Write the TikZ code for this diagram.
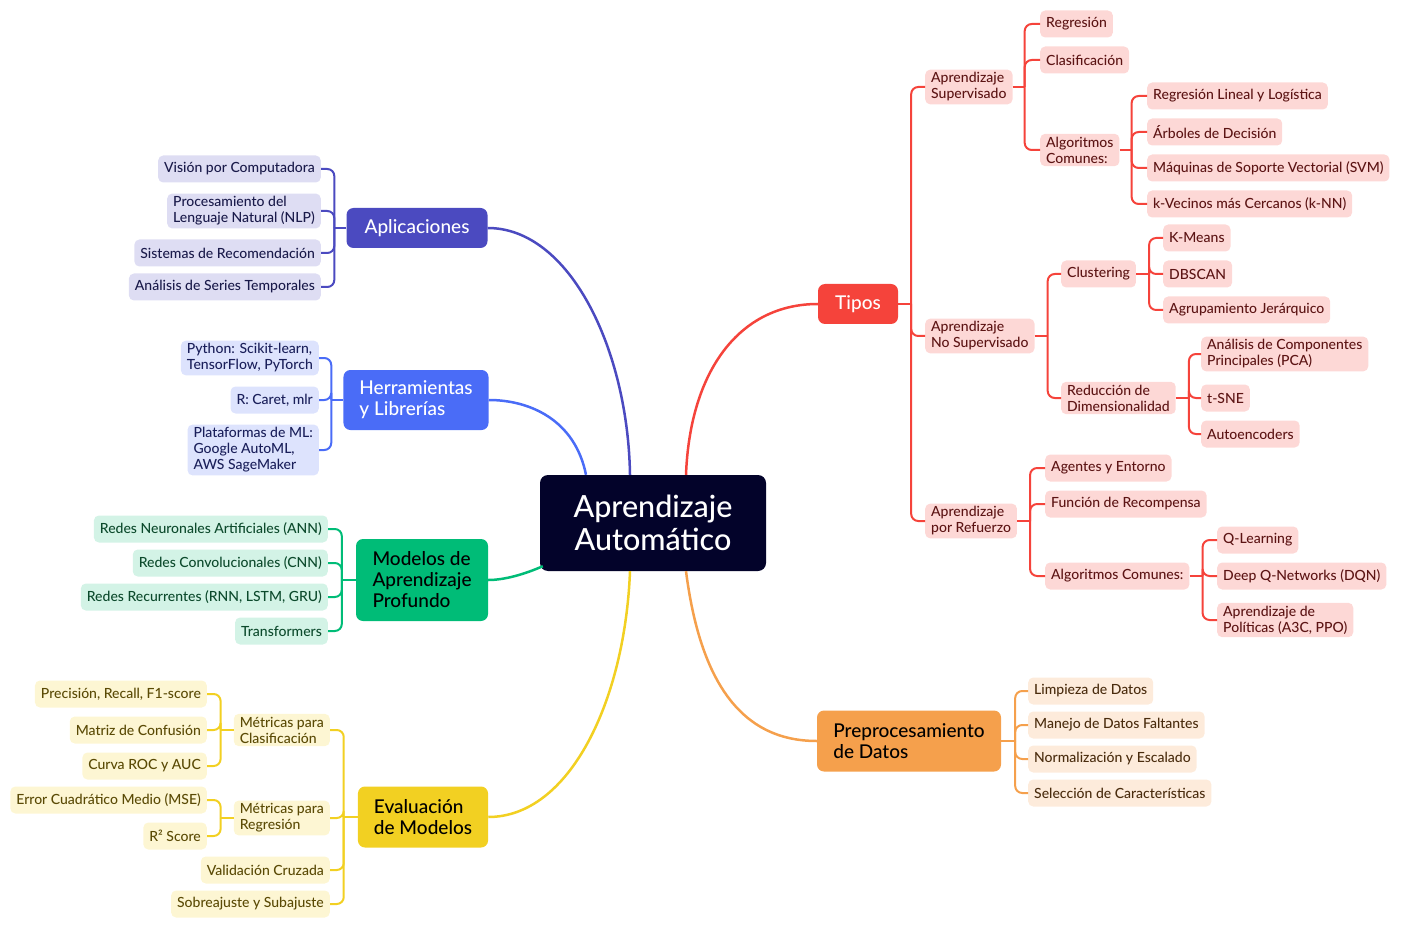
\documentclass[tikz,border=0pt]{standalone}
\usepackage{fontspec}
\setmainfont{Lato}[UprightFont=* Medium]
\usetikzlibrary{positioning}

\definecolor{core}{HTML}{03032A}
\definecolor{tipo}{HTML}{F5433B}
\definecolor{tipolight}{HTML}{FDD8D6}
\definecolor{tipotext}{HTML}{5C1414}
\definecolor{prep}{HTML}{F5A04C}
\definecolor{preplight}{HTML}{FDEBDB}
\definecolor{preptext}{HTML}{4A2C0E}
\definecolor{eval}{HTML}{F2D022}
\definecolor{evallight}{HTML}{FDF6D3}
\definecolor{evaltext}{HTML}{5A4A05}
\definecolor{deep}{HTML}{00BC77}
\definecolor{deeplight}{HTML}{D3F3E6}
\definecolor{deeptext}{HTML}{0C4A2C}
\definecolor{tool}{HTML}{4A6CF7}
\definecolor{toollight}{HTML}{DDE3FD}
\definecolor{tooltext}{HTML}{1A1F5A}
\definecolor{app}{HTML}{4B4AC0}
\definecolor{applight}{HTML}{DEDDF3}
\definecolor{apptext}{HTML}{1A1A4A}

\tikzset{
    box/.style={rectangle, rounded corners=5pt, inner xsep=6pt, inner ysep=3pt,
        minimum height=27pt, align=left, font=\fontsize{14}{16}\selectfont},
    main/.style={rectangle, rounded corners=7pt, inner xsep=16pt, minimum height=40pt,
        align=left, font=\fontsize{19}{21}\selectfont},
    curve/.style={line width=2.5pt},
    branch/.style={line width=2pt, rounded corners=7pt},
    tbox/.style={box, fill=tipolight, text=tipotext},
    pbox/.style={box, fill=preplight, text=preptext},
    ebox/.style={box, fill=evallight, text=evaltext},
    dbox/.style={box, fill=deeplight, text=deeptext},
    hbox/.style={box, fill=toollight, text=tooltext},
    abox/.style={box, fill=applight, text=apptext},
}

\begin{document}
\begin{tikzpicture}[x=1pt, y=-1pt]
\useasboundingbox (0,0) rectangle (1403,933);

% Centre
\node[rectangle, rounded corners=8pt, fill=core, text=white, align=center,
    minimum width=226pt, minimum height=96pt,
    font=\fontsize{30.5}{33}\selectfont] (ml) at (653,523) {Aprendizaje\\Automático};

% Main branches
\node[main, fill=tipo, text=white, minimum width=80pt, align=center] (tipos) at (858,304) {Tipos};
\node[main, fill=prep, text=black, minimum width=184pt, minimum height=61pt] (prep) at (909,741) {Preprocesamiento\\de Datos};
\node[main, fill=eval, text=black, minimum width=130pt, minimum height=61pt] (eval) at (423,817) {Evaluación\\de Modelos};
\node[main, fill=deep, text=black, minimum width=132pt, minimum height=82pt] (modelos) at (422,580) {Modelos de\\Aprendizaje\\Profundo};
\node[main, fill=tool, text=white, minimum width=143pt, minimum height=60pt] (herr) at (416,400) {Herramientas\\y Librerías};
\node[main, fill=app, text=white, minimum width=141pt, align=center] (apl) at (417,228) {Aplicaciones};

\draw[curve, tipo] ([xshift=33pt]ml.north) .. controls (690,370) and (740,304) .. (tipos.west);
\draw[curve, app] ([xshift=-23pt]ml.north) .. controls (628,350) and (570,228) .. (apl.east);
\draw[curve, tool] ([xshift=-67pt]ml.north) .. controls (575,420) and (530,400) .. (herr.east);
\draw[curve, deep] ([xshift=3pt, yshift=5pt]ml.south west) .. controls (525,574) and (505,580) .. (modelos.east);
\draw[curve, eval] ([xshift=-23pt]ml.south) .. controls (625,700) and (570,817) .. (eval.east);
\draw[curve, prep] ([xshift=33pt]ml.south) .. controls (700,680) and (740,741) .. (prep.west);

% Tipos
\node[tbox, anchor=west] (sup) at (925,87) {Aprendizaje\\Supervisado};
\node[tbox, anchor=west] (nosup) at (925,336) {Aprendizaje\\No Supervisado};
\node[tbox, anchor=west] (ref) at (925,521) {Aprendizaje\\por Refuerzo};

\node[tbox, anchor=west] (reg) at (1040,24) {Regresión};
\node[tbox, anchor=west] (clas) at (1040,60) {Clasificación};
\node[tbox, anchor=west] (algs) at (1040,150) {Algoritmos\\Comunes:};
\node[tbox, anchor=west] (rlog) at (1147,96) {Regresión Lineal y Logística};
\node[tbox, anchor=west] (arb) at (1147,132) {Árboles de Decisión};
\node[tbox, anchor=west] (svm) at (1147,168) {Máquinas de Soporte Vectorial (SVM)};
\node[tbox, anchor=west] (knn) at (1147,204) {k-Vecinos más Cercanos (k-NN)};

\node[tbox, anchor=west] (clus) at (1061,274) {Clustering};
\node[tbox, anchor=west] (dimred) at (1061,398) {Reducción de\\Dimensionalidad};
\node[tbox, anchor=west] (kmeans) at (1163,238) {K-Means};
\node[tbox, anchor=west] (dbscan) at (1163,274) {DBSCAN};
\node[tbox, anchor=west] (jer) at (1163,310) {Agrupamiento Jerárquico};
\node[tbox, anchor=west] (pca) at (1201,354) {Análisis de Componentes\\Principales (PCA)};
\node[tbox, anchor=west] (tsne) at (1201,398) {t-SNE};
\node[tbox, anchor=west] (autoenc) at (1201,434) {Autoencoders};

\node[tbox, anchor=west] (agent) at (1045,468) {Agentes y Entorno};
\node[tbox, anchor=west] (recomp) at (1045,504) {Función de Recompensa};
\node[tbox, anchor=west] (algr) at (1045,576) {Algoritmos Comunes:};
\node[tbox, anchor=west] (qlearn) at (1217,540) {Q-Learning};
\node[tbox, anchor=west] (dqn) at (1217,576) {Deep Q-Networks (DQN)};
\node[tbox, anchor=west] (polit) at (1217,620) {Aprendizaje de\\Políticas (A3C, PPO)};

\draw[branch, tipo] (tipos.east) -- ++(13,0) coordinate (tj);
\foreach \c in {sup,nosup,ref} \draw[branch, tipo] (tj) |- (\c.west);
\draw[branch, tipo] (sup.east) -- ++(12,0) coordinate (sj);
\foreach \c in {reg,clas,algs} \draw[branch, tipo] (sj) |- (\c.west);
\draw[branch, tipo] (algs.east) -- ++(12,0) coordinate (aj);
\foreach \c in {rlog,arb,svm,knn} \draw[branch, tipo] (aj) |- (\c.west);
\draw[branch, tipo] (nosup.east) -- ++(13,0) coordinate (nj);
\foreach \c in {clus,dimred} \draw[branch, tipo] (nj) |- (\c.west);
\draw[branch, tipo] (clus.east) -- ++(13,0) coordinate (cj);
\foreach \c in {kmeans,dbscan,jer} \draw[branch, tipo] (cj) |- (\c.west);
\draw[branch, tipo] (dimred.east) -- ++(13,0) coordinate (dj);
\foreach \c in {pca,tsne,autoenc} \draw[branch, tipo] (dj) |- (\c.west);
\draw[branch, tipo] (ref.east) -- ++(13,0) coordinate (rj);
\foreach \c in {agent,recomp,algr} \draw[branch, tipo] (rj) |- (\c.west);
\draw[branch, tipo] (algr.east) -- ++(13,0) coordinate (qj);
\foreach \c in {qlearn,dqn,polit} \draw[branch, tipo] (qj) |- (\c.west);

% Preprocesamiento
\node[pbox, anchor=west] (limp) at (1028,691) {Limpieza de Datos};
\node[pbox, anchor=west] (falt) at (1028,725) {Manejo de Datos Faltantes};
\node[pbox, anchor=west] (norm) at (1028,759) {Normalización y Escalado};
\node[pbox, anchor=west] (selec) at (1028,793) {Selección de Características};
\draw[branch, prep] (prep.east) -- ++(14,0) coordinate (pj);
\foreach \c in {limp,falt,norm,selec} \draw[branch, prep] (pj) |- (\c.west);

% Evaluacion
\node[ebox, anchor=east] (mclas) at (330,730) {Métricas para\\Clasificación};
\node[ebox, anchor=east] (mreg) at (330,818) {Métricas para\\Regresión};
\node[ebox, anchor=east] (valid) at (330,870) {Validación Cruzada};
\node[ebox, anchor=east] (sobre) at (330,904) {Sobreajuste y Subajuste};
\node[ebox, anchor=east] (prec) at (207,694) {Precisión, Recall, F1-score};
\node[ebox, anchor=east] (conf) at (207,730) {Matriz de Confusión};
\node[ebox, anchor=east] (roc) at (207,766) {Curva ROC y AUC};
\node[ebox, anchor=east] (mse) at (207,800) {Error Cuadrático Medio (MSE)};
\node[ebox, anchor=east] (rdos) at (207,836) {R² Score};
\draw[branch, eval] (eval.west) -- ++(-14,0) coordinate (ej);
\foreach \c in {mclas,mreg,valid,sobre} \draw[branch, eval] (ej) |- (\c.east);
\draw[branch, eval] (mclas.west) -- ++(-13,0) coordinate (mcj);
\foreach \c in {prec,conf,roc} \draw[branch, eval] (mcj) |- (\c.east);
\draw[branch, eval] (mreg.west) -- ++(-13,0) coordinate (mrj);
\foreach \c in {mse,rdos} \draw[branch, eval] (mrj) |- (\c.east);

% Modelos
\node[dbox, anchor=east] (ann) at (328,529) {Redes Neuronales Artificiales (ANN)};
\node[dbox, anchor=east] (cnn) at (328,563) {Redes Convolucionales (CNN)};
\node[dbox, anchor=east] (rnn) at (328,597) {Redes Recurrentes (RNN, LSTM, GRU)};
\node[dbox, anchor=east] (transf) at (328,631) {Transformers};
\draw[branch, deep] (modelos.west) -- ++(-14,0) coordinate (mj);
\foreach \c in {ann,cnn,rnn,transf} \draw[branch, deep] (mj) |- (\c.east);

% Herramientas
\node[hbox, anchor=east] (py) at (319,358) {Python: Scikit-learn,\\TensorFlow, PyTorch};
\node[hbox, anchor=east] (rr) at (319,400) {R: Caret, mlr};
\node[hbox, anchor=east] (plat) at (319,450) {Plataformas de ML:\\Google AutoML,\\AWS SageMaker};
\draw[branch, tool] (herr.west) -- ++(-12,0) coordinate (hj);
\foreach \c in {py,rr,plat} \draw[branch, tool] (hj) |- (\c.east);

% Aplicaciones
\node[abox, anchor=east] (vis) at (321,169) {Visión por Computadora};
\node[abox, anchor=east] (nlp) at (321,211) {Procesamiento del\\Lenguaje Natural (NLP)};
\node[abox, anchor=east] (sis) at (321,253) {Sistemas de Recomendación};
\node[abox, anchor=east] (series) at (321,287) {Análisis de Series Temporales};
\draw[branch, app] (apl.west) -- ++(-12,0) coordinate (apj);
\foreach \c in {vis,nlp,sis,series} \draw[branch, app] (apj) |- (\c.east);

\end{tikzpicture}
\end{document}
